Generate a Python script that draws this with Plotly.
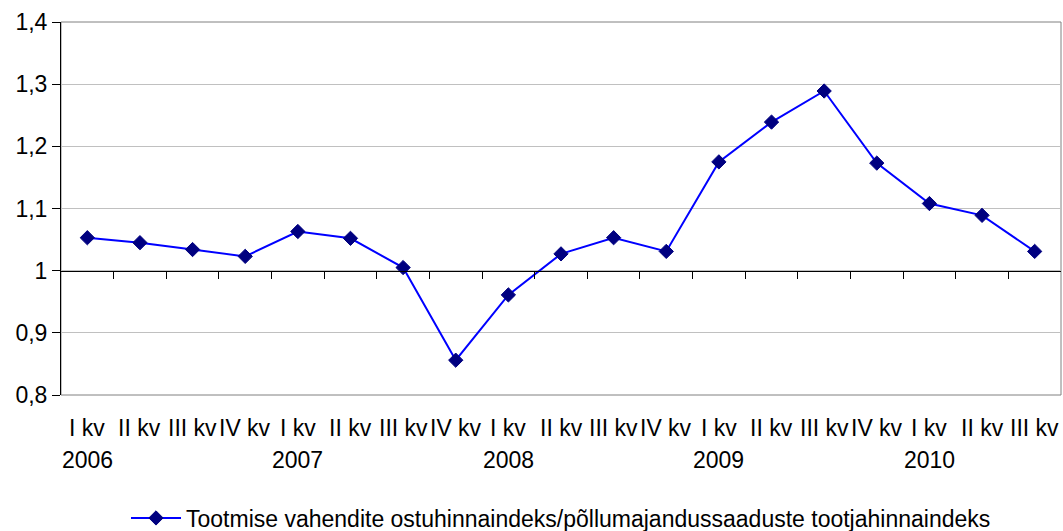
import plotly.graph_objects as go

quarters = ["I kv", "II kv", "III kv", "IV kv",
            "I kv", "II kv", "III kv", "IV kv",
            "I kv", "II kv", "III kv", "IV kv",
            "I kv", "II kv", "III kv", "IV kv",
            "I kv", "II kv", "III kv"]
years = ["2006", "", "", "", "2007", "", "", "", "2008", "", "", "",
         "2009", "", "", "", "2010", "", ""]
values = [1.053, 1.045, 1.034, 1.023, 1.063, 1.052, 1.005, 0.856,
          0.961, 1.027, 1.053, 1.031, 1.175, 1.239, 1.289, 1.173,
          1.108, 1.089, 1.031]
series_name = "Tootmise vahendite ostuhinnaindeks/põllumajandussaaduste tootjahinnaindeks"
y_tickvals = [0.8, 0.9, 1.0, 1.1, 1.2, 1.3, 1.4]
y_ticktext = ["0,8", "0,9", "1", "1,1", "1,2", "1,3", "1,4"]

FONT = "Liberation Sans, Arial, sans-serif"
FS = 23
n = len(values)
xs = list(range(n))

W, H = 1063, 531
ML, MR, MT, MB = 61, 2, 22, 136
plot_h = H - MT - MB

fig = go.Figure()
fig.add_trace(go.Scatter(
    x=xs, y=values, mode="lines+markers", name=series_name,
    line=dict(color="#0000FF", width=2),
    marker=dict(symbol="diamond", size=11, color="#000080",
                line=dict(color="#000080", width=1)),
))

ymin, ymax = 0.8, 1.4
cross = 1.0

fig.update_layout(
    width=W, height=H,
    margin=dict(l=ML, r=MR, t=MT, b=MB, autoexpand=False),
    paper_bgcolor="white", plot_bgcolor="white",
    font=dict(family=FONT, size=FS, color="black"),
    showlegend=True,
    legend=dict(orientation="h", x=0.5, xanchor="center",
                y=-123 / plot_h, yanchor="middle",
                font=dict(family=FONT, size=FS, color="black"),
                itemwidth=50),
    xaxis=dict(
        range=[-0.5, n - 0.5], showgrid=False, zeroline=False,
        automargin=False,
        anchor="free", position=(cross - ymin) / (ymax - ymin),
        showline=True, linecolor="black", linewidth=1,
        tickmode="array", tickvals=[i + 0.5 for i in range(n - 1)],
        ticks="outside", ticklen=7, tickcolor="black", tickwidth=1,
        showticklabels=False,
    ),
    yaxis=dict(
        range=[ymin, ymax], tickmode="array", tickvals=y_tickvals,
        automargin=False,
        ticktext=y_ticktext, showgrid=True, gridcolor="#c0c0c0",
        gridwidth=1, zeroline=False, showline=True, linecolor="black",
        linewidth=1, ticks="outside", ticklen=8, tickcolor="black",
        tickfont=dict(family=FONT, size=FS, color="black"),
    ),
    shapes=[dict(type="rect", xref="paper", yref="paper", x0=0, x1=1,
                 y0=0, y1=1, line=dict(color="#808080", width=1),
                 layer="below")],
)

annotations = []
for i, q in enumerate(quarters):
    annotations.append(dict(x=i, xref="x", y=0, yref="paper",
                            text=q, showarrow=False, yanchor="top",
                            yshift=-18, font=dict(family=FONT, size=FS)))
for i, yr in enumerate(years):
    if yr:
        annotations.append(dict(x=i, xref="x", y=0, yref="paper",
                                text=yr, showarrow=False, yanchor="top",
                                yshift=-50, font=dict(family=FONT, size=FS)))
fig.update_layout(annotations=annotations)

fig.write_html(
    "out.html",
    config={"displayModeBar": False},
    post_script="document.body.style.margin='0';document.body.style.overflow='hidden';",
)
